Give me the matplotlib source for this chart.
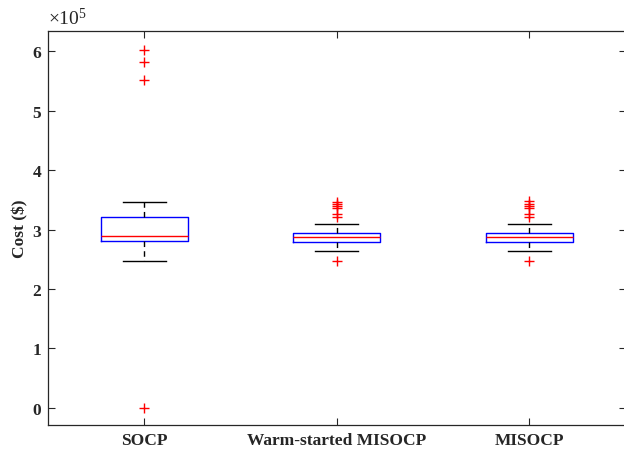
import matplotlib
matplotlib.use("Agg")
import matplotlib.pyplot as plt
import numpy as np

categories = ["SOCP", "Warm-started MISOCP", "MISOCP"]
q1 = [2.81e5, 2.80e5, 2.80e5]
median = [2.89e5, 2.87e5, 2.87e5]
q3 = [3.215e5, 2.95e5, 2.95e5]
whisker_low = [2.475e5, 2.64e5, 2.64e5]
whisker_high = [3.47e5, 3.10e5, 3.10e5]
outliers = [
    [6.02e5, 5.83e5, 5.52e5, 0.0],
    [3.47e5, 3.44e5, 3.39e5, 3.36e5, 3.26e5, 3.22e5, 2.475e5],
    [3.48e5, 3.44e5, 3.39e5, 3.36e5, 3.26e5, 3.22e5, 2.475e5],
]
yticks = [0, 1e5, 2e5, 3e5, 4e5, 5e5, 6e5]
ytick_labels = ["0", "1", "2", "3", "4", "5", "6"]

plt.rcParams['font.family'] = ['Liberation Serif', 'DejaVu Serif']
plt.rcParams['mathtext.fontset'] = 'custom'
plt.rcParams['mathtext.rm'] = 'Liberation Serif'
plt.rcParams['mathtext.it'] = 'Liberation Serif:italic'
plt.rcParams['mathtext.bf'] = 'Liberation Serif:bold'

fig = plt.figure(figsize=(6.24, 4.52), dpi=100)
ax = fig.add_axes([48 / 624, 1 - 426 / 452, (625.5 - 48) / 624, (426 - 32.3) / 452])

stats = []
for i in range(len(categories)):
    stats.append(dict(med=median[i], q1=q1[i], q3=q3[i],
                      whislo=whisker_low[i], whishi=whisker_high[i],
                      fliers=outliers[i], label=categories[i]))

ax.bxp(stats, positions=[1, 2, 3], widths=0.45, showfliers=True,
       boxprops=dict(color='blue', linewidth=1.0),
       medianprops=dict(color='red', linewidth=1.0),
       whiskerprops=dict(color='black', linewidth=1.0, linestyle=(0, (4, 3))),
       capprops=dict(color='black', linewidth=1.0),
       flierprops=dict(marker='+', markeredgecolor='red', markersize=7.5,
                       markeredgewidth=1.0, linestyle='none'),
       capwidths=0.225)

ax.set_xlim(0.5, 3.5)
ax.set_ylim(-0.29e5, 6.34e5)
ax.set_yticks(yticks)
ax.set_yticklabels(ytick_labels)
ax.set_xticks([1, 2, 3])
ax.set_xticklabels(categories)
for lab in ax.get_xticklabels() + ax.get_yticklabels():
    lab.set_fontweight('bold')
    lab.set_fontsize(12.5)
ax.tick_params(direction='in', top=True, right=True, length=5, width=0.8,
               colors='#262626', labelcolor='#262626')
ax.tick_params(axis='x', pad=5)
ax.tick_params(axis='y', pad=5)
for s in ax.spines.values():
    s.set_color('#262626')
    s.set_linewidth(0.9)

ax.set_ylabel('Cost ($)', fontsize=12.5, fontweight='bold', color='#262626', labelpad=3)
ax.text(0.0, 1.008, r'$\times10^{5}$', transform=ax.transAxes, fontsize=14,
        color='#262626', ha='left', va='bottom')

fig.savefig('out.png', dpi=100)
